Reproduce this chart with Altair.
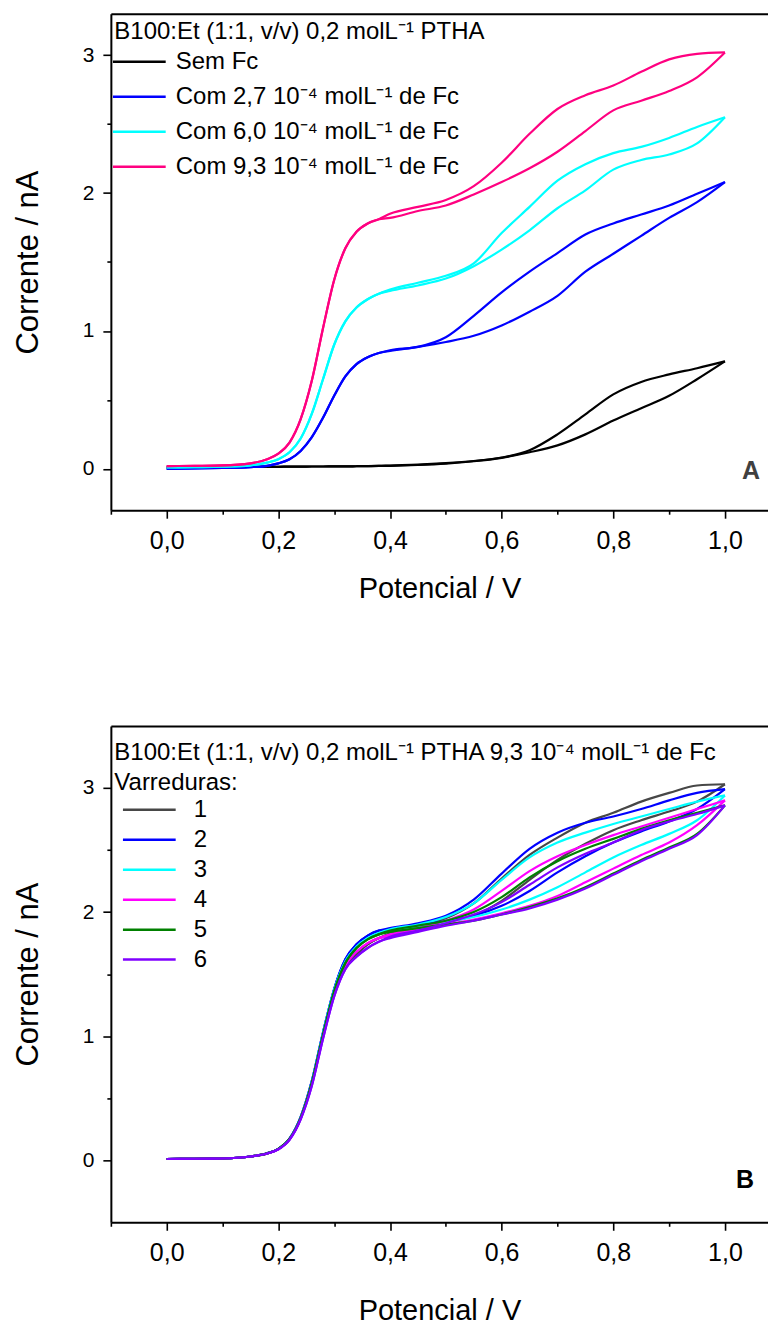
import altair as alt
import pandas as pd

# ---------------- data ----------------
# potentials (V): common grid for the onset region and for the split region
E_RISE = [0.00, 0.05, 0.10, 0.15, 0.18, 0.20, 0.22, 0.24, 0.26, 0.28, 0.30, 0.32, 0.34, 0.36, 0.38]
E_HIGH = [0.40, 0.45, 0.50, 0.55, 0.60, 0.65, 0.70, 0.75, 0.80, 0.85, 0.90, 0.95, 1.00]

# Panel A
A_SERIES = ["Sem Fc",
            "Com 2,7 10⁻⁴ molL⁻¹ de Fc",
            "Com 6,0 10⁻⁴ molL⁻¹ de Fc",
            "Com 9,3 10⁻⁴ molL⁻¹ de Fc"]
A_COLORS = ["#000000", "#0000FF", "#00FFFF", "#FF0080"]

A0_RISE = [0.010, 0.012, 0.013, 0.014, 0.015, 0.015, 0.016, 0.016, 0.017, 0.017, 0.018, 0.018, 0.019, 0.020, 0.021]
A0_FWD = [0.022, 0.028, 0.038, 0.055, 0.080, 0.120, 0.170, 0.250, 0.350, 0.440, 0.530, 0.650, 0.780]
A0_REV = [0.024, 0.030, 0.041, 0.057, 0.082, 0.135, 0.250, 0.395, 0.540, 0.630, 0.685, 0.730, 0.780]

A1_RISE = [0.000, 0.003, 0.006, 0.012, 0.022, 0.040, 0.070, 0.130, 0.230, 0.370, 0.530, 0.670, 0.760, 0.810, 0.840]
A1_FWD = [0.855, 0.885, 0.920, 0.965, 1.040, 1.140, 1.255, 1.430, 1.560, 1.690, 1.820, 1.935, 2.080]
A1_REV = [0.860, 0.885, 0.955, 1.110, 1.280, 1.430, 1.565, 1.700, 1.780, 1.845, 1.910, 1.995, 2.080]

A2_RISE = [0.010, 0.012, 0.015, 0.025, 0.045, 0.070, 0.120, 0.220, 0.400, 0.650, 0.900, 1.070, 1.170, 1.230, 1.270]
A2_FWD = [1.290, 1.330, 1.380, 1.470, 1.590, 1.730, 1.890, 2.020, 2.170, 2.240, 2.280, 2.360, 2.550]
A2_REV = [1.300, 1.350, 1.400, 1.490, 1.710, 1.900, 2.090, 2.210, 2.290, 2.335, 2.400, 2.480, 2.550]

A3_RISE = [0.020, 0.022, 0.025, 0.040, 0.070, 0.110, 0.190, 0.360, 0.640, 1.020, 1.370, 1.600, 1.720, 1.780, 1.810]
A3_FWD = [1.820, 1.870, 1.910, 1.990, 2.080, 2.180, 2.300, 2.450, 2.600, 2.670, 2.740, 2.840, 3.020]
A3_REV = [1.850, 1.900, 1.950, 2.050, 2.220, 2.430, 2.610, 2.710, 2.780, 2.880, 2.970, 3.010, 3.020]

# Panel B
B_SERIES = ["1", "2", "3", "4", "5", "6"]
B_COLORS = ["#474747", "#0000FF", "#00FFFF", "#FF00FF", "#008000", "#8000FF"]

B1_RISE = [0.010, 0.012, 0.014, 0.030, 0.055, 0.090, 0.170, 0.340, 0.620, 1.000, 1.340, 1.560, 1.660, 1.740, 1.790]
B1_FWD = [1.81, 1.87, 1.92, 1.97, 2.09, 2.26, 2.42, 2.55, 2.66, 2.74, 2.81, 2.89, 3.03]
B1_REV = [1.83, 1.89, 1.95, 2.07, 2.27, 2.46, 2.60, 2.72, 2.80, 2.89, 2.96, 3.02, 3.03]

B2_RISE = [0.010, 0.012, 0.014, 0.030, 0.056, 0.092, 0.175, 0.350, 0.640, 1.030, 1.380, 1.620, 1.740, 1.810, 1.850]
B2_FWD = [1.86, 1.89, 1.93, 1.97, 2.05, 2.17, 2.32, 2.45, 2.56, 2.65, 2.73, 2.83, 2.99]
B2_REV = [1.87, 1.91, 1.97, 2.10, 2.31, 2.51, 2.64, 2.72, 2.77, 2.83, 2.90, 2.96, 2.99]

B3_RISE = [0.010, 0.012, 0.014, 0.030, 0.056, 0.092, 0.172, 0.345, 0.630, 1.020, 1.370, 1.600, 1.720, 1.790, 1.830]
B3_FWD = [1.85, 1.88, 1.92, 1.96, 2.02, 2.10, 2.20, 2.32, 2.44, 2.54, 2.63, 2.74, 2.94]
B3_REV = [1.86, 1.90, 1.96, 2.07, 2.26, 2.44, 2.56, 2.64, 2.71, 2.77, 2.83, 2.89, 2.94]

B4_RISE = [0.010, 0.012, 0.014, 0.030, 0.055, 0.090, 0.170, 0.340, 0.620, 1.000, 1.340, 1.570, 1.680, 1.750, 1.790]
B4_FWD = [1.81, 1.86, 1.90, 1.94, 1.99, 2.05, 2.13, 2.24, 2.35, 2.46, 2.56, 2.70, 2.90]
B4_REV = [1.82, 1.87, 1.93, 2.02, 2.17, 2.33, 2.45, 2.54, 2.62, 2.69, 2.76, 2.83, 2.90]

B5_RISE = [0.010, 0.012, 0.014, 0.030, 0.055, 0.091, 0.171, 0.342, 0.625, 1.010, 1.360, 1.590, 1.710, 1.780, 1.820]
B5_FWD = [1.84, 1.87, 1.90, 1.93, 1.98, 2.04, 2.11, 2.20, 2.31, 2.42, 2.52, 2.63, 2.86]
B5_REV = [1.85, 1.89, 1.93, 2.00, 2.12, 2.28, 2.41, 2.51, 2.59, 2.67, 2.74, 2.80, 2.86]

B6_RISE = [0.010, 0.012, 0.014, 0.030, 0.054, 0.088, 0.165, 0.330, 0.600, 0.980, 1.320, 1.540, 1.640, 1.710, 1.760]
B6_FWD = [1.79, 1.84, 1.89, 1.93, 1.98, 2.03, 2.10, 2.19, 2.30, 2.41, 2.51, 2.62, 2.86]
B6_REV = [1.80, 1.85, 1.91, 1.98, 2.08, 2.22, 2.36, 2.47, 2.56, 2.66, 2.73, 2.79, 2.86]

X_MAJOR = [0.0, 0.2, 0.4, 0.6, 0.8, 1.0]
X_MINOR = [-0.1, 0.1, 0.3, 0.5, 0.7, 0.9]
Y_MAJOR = [0, 1, 2, 3]
Y_MINOR = [0.5, 1.5, 2.5]

A_LEGEND_TITLE = "B100:Et (1:1, v/v) 0,2 molL⁻¹ PTHA"
B_LEGEND_TITLE = ["B100:Et (1:1, v/v)  0,2 molL⁻¹ PTHA 9,3 10⁻⁴ molL⁻¹ de Fc", "Varreduras:"]


def make_df(series, rises, fwds, revs):
    rows = []
    for name, r, f, v in zip(series, rises, fwds, revs):
        for ramo, high in (("direta", f), ("inversa", v)):
            for e, i in zip(E_RISE + E_HIGH, r + high):
                rows.append({"serie": name, "ramo": ramo, "E": e, "I": i})
    return pd.DataFrame(rows)


df_a = make_df(A_SERIES, [A0_RISE, A1_RISE, A2_RISE, A3_RISE],
               [A0_FWD, A1_FWD, A2_FWD, A3_FWD], [A0_REV, A1_REV, A2_REV, A3_REV])
df_b = make_df(B_SERIES, [B1_RISE, B2_RISE, B3_RISE, B4_RISE, B5_RISE, B6_RISE],
               [B1_FWD, B2_FWD, B3_FWD, B4_FWD, B5_FWD, B6_FWD],
               [B1_REV, B2_REV, B3_REV, B4_REV, B5_REV, B6_REV])

# ---------------- layout ----------------
W = 658
H = 497
XMIN, XMAX = -0.1, 1.0771
FONT = "Liberation Sans"
LABEL_EXPR = "replace(format(datum.value, '.1f'), '.', ',')"
# long horizontal legend stroke (custom path keeps the legend rows compact)
LEG_SYMBOL = "M-4.4,0H4.4"


def panel(df, series, colors, ydom, legend, letter, letter_color, letter_xy, xtitle_pad):
    xs = alt.Scale(domain=[XMIN, XMAX], nice=False, zero=False)
    ys = alt.Scale(domain=ydom, nice=False, zero=False)

    lines = alt.Chart(df).mark_line(strokeWidth=2.2, interpolate="monotone").encode(
        x=alt.X("E:Q", scale=xs, axis=alt.Axis(
            orient="bottom", values=X_MAJOR, labelExpr=LABEL_EXPR, title="Potencial / V",
            tickSize=8, tickWidth=1.6, tickColor="black", domainColor="black", domainWidth=2,
            labelFontSize=25, labelPadding=10, labelColor="black", titleFontSize=29,
            titleFontWeight="normal", titleColor="black", titlePadding=xtitle_pad, grid=False,
            labelOverlap=False)),
        y=alt.Y("I:Q", scale=ys, axis=alt.Axis(
            orient="left", values=Y_MAJOR, format="d", title="Corrente / nA",
            tickSize=8, tickWidth=1.6, tickColor="black", domainColor="black", domainWidth=2,
            labelFontSize=21, labelPadding=9, labelColor="black", titleFontSize=31,
            titleFontWeight="normal", titleColor="black", titlePadding=38, grid=False,
            labelOverlap=False)),
        color=alt.Color("serie:N", scale=alt.Scale(domain=series, range=colors), legend=legend),
        detail="ramo:N",
    )

    minor = alt.Chart(df).mark_line(opacity=0).encode(
        x=alt.X("E:Q", scale=xs, axis=alt.Axis(
            orient="bottom", values=X_MINOR, labels=False, domain=False, title=None,
            tickSize=4, tickWidth=1.6, tickColor="black", grid=False)),
        y=alt.Y("I:Q", scale=ys, axis=alt.Axis(
            orient="left", values=Y_MINOR, labels=False, domain=False, title=None,
            tickSize=4, tickWidth=1.6, tickColor="black", grid=False)),
        detail="ramo:N",
    )

    top = alt.Chart(df).mark_line(opacity=0).encode(
        x=alt.X("E:Q", scale=xs, axis=alt.Axis(
            orient="top", labels=False, ticks=False, title=None,
            domainColor="black", domainWidth=2, grid=False)),
        y=alt.Y("I:Q", scale=ys, axis=None),
        detail="ramo:N",
    )

    tag = alt.Chart(pd.DataFrame({"t": [letter]})).mark_text(
        fontSize=25, fontWeight="bold", color=letter_color, align="center", baseline="middle",
        font=FONT,
    ).encode(text="t:N", x=alt.value(letter_xy[0]), y=alt.value(letter_xy[1]))

    return alt.layer(lines, minor, top, tag).resolve_axis(
        x="independent", y="independent").properties(width=W, height=H)


legend_a = alt.Legend(
    title=A_LEGEND_TITLE, orient="none", legendX=3.5, legendY=6,
    symbolType=LEG_SYMBOL, symbolSize=144, symbolStrokeWidth=2.5, symbolOffset=13,
    labelFontSize=24, titleFontSize=24, titleFontWeight="normal",
    titleColor="black", labelColor="black", rowPadding=11, titlePadding=6,
    labelOffset=24.5, padding=0, labelLimit=1000, titleLimit=1000,
    labelFont=FONT, titleFont=FONT,
)

legend_b = alt.Legend(
    title=B_LEGEND_TITLE, orient="none", legendX=3.5, legendY=15,
    symbolType=LEG_SYMBOL, symbolSize=144, symbolStrokeWidth=2.5, symbolOffset=23,
    labelFontSize=24, titleFontSize=24, titleFontWeight="normal", titleLineHeight=30,
    titleColor="black", labelColor="black", rowPadding=6, titlePadding=3,
    labelOffset=32.5, padding=0, labelLimit=1000, titleLimit=1000,
    labelFont=FONT, titleFont=FONT,
)

chart_a = panel(df_a, A_SERIES, A_COLORS, [-0.3, 3.3], legend_a, "A", "#404040", (641, 458), 21)
chart_b = panel(df_b, B_SERIES, B_COLORS, [-0.5, 3.5], legend_b, "B", "#000000", (635, 455), 31)

chart = alt.vconcat(chart_a, chart_b, spacing=123).resolve_scale(
    color="independent").resolve_legend(color="independent").properties(
    padding={"left": 4, "top": 5, "right": 0, "bottom": 0}
).configure(font=FONT).configure_view(stroke=None)

chart.save("out.html", embed_options={"renderer": "svg", "actions": False})
